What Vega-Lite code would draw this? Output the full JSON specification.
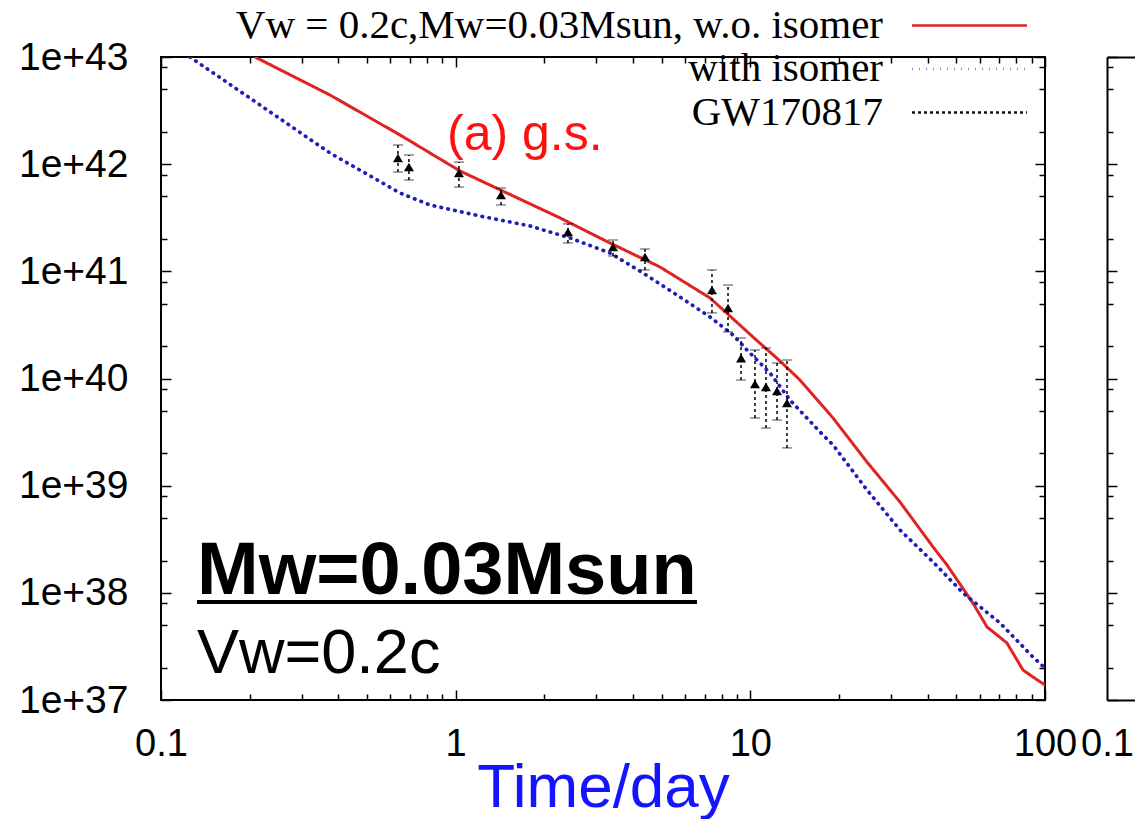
{
  "$schema": "https://vega.github.io/schema/vega-lite/v6.json",
  "autosize": {"type": "pad"},
  "padding": {"left": 17, "top": 5, "right": 0, "bottom": 0},
  "background": "white",
  "spacing": 62,
  "bounds": "flush",
  "datasets": {
    "curves": [
      {"t": 0.2084, "L": 1e43, "series": "Vw = 0.2c,Mw=0.03Msun, w.o. isomer"},
      {"t": 0.3745, "L": 4.42e42, "series": "Vw = 0.2c,Mw=0.03Msun, w.o. isomer"},
      {"t": 0.6475, "L": 1.872e42, "series": "Vw = 0.2c,Mw=0.03Msun, w.o. isomer"},
      {"t": 1.034, "L": 8.64e41, "series": "Vw = 0.2c,Mw=0.03Msun, w.o. isomer"},
      {"t": 2.26, "L": 3.15e41, "series": "Vw = 0.2c,Mw=0.03Msun, w.o. isomer"},
      {"t": 3.339, "L": 1.838e41, "series": "Vw = 0.2c,Mw=0.03Msun, w.o. isomer"},
      {"t": 4.936, "L": 1.098e41, "series": "Vw = 0.2c,Mw=0.03Msun, w.o. isomer"},
      {"t": 7.3, "L": 5.64e40, "series": "Vw = 0.2c,Mw=0.03Msun, w.o. isomer"},
      {"t": 10.21, "L": 2.44e40, "series": "Vw = 0.2c,Mw=0.03Msun, w.o. isomer"},
      {"t": 12.61, "L": 1.457e40, "series": "Vw = 0.2c,Mw=0.03Msun, w.o. isomer"},
      {"t": 14.74, "L": 9.68e39, "series": "Vw = 0.2c,Mw=0.03Msun, w.o. isomer"},
      {"t": 19.08, "L": 4.28e39, "series": "Vw = 0.2c,Mw=0.03Msun, w.o. isomer"},
      {"t": 24.88, "L": 1.663e39, "series": "Vw = 0.2c,Mw=0.03Msun, w.o. isomer"},
      {"t": 32.2, "L": 7.04e38, "series": "Vw = 0.2c,Mw=0.03Msun, w.o. isomer"},
      {"t": 41.7, "L": 2.68e38, "series": "Vw = 0.2c,Mw=0.03Msun, w.o. isomer"},
      {"t": 46.5, "L": 1.82e38, "series": "Vw = 0.2c,Mw=0.03Msun, w.o. isomer"},
      {"t": 56.9, "L": 8.04e37, "series": "Vw = 0.2c,Mw=0.03Msun, w.o. isomer"},
      {"t": 63.6, "L": 4.8e37, "series": "Vw = 0.2c,Mw=0.03Msun, w.o. isomer"},
      {"t": 74.3, "L": 3.4e37, "series": "Vw = 0.2c,Mw=0.03Msun, w.o. isomer"},
      {"t": 84.2, "L": 1.905e37, "series": "Vw = 0.2c,Mw=0.03Msun, w.o. isomer"},
      {"t": 91.0, "L": 1.64e37, "series": "Vw = 0.2c,Mw=0.03Msun, w.o. isomer"},
      {"t": 100, "L": 1.38e37, "series": "Vw = 0.2c,Mw=0.03Msun, w.o. isomer"},
      {"t": 0.1254, "L": 1e43, "series": "with isomer"},
      {"t": 0.2168, "L": 3.565e42, "series": "with isomer"},
      {"t": 0.3745, "L": 1.271e42, "series": "with isomer"},
      {"t": 0.6475, "L": 5.38e41, "series": "with isomer"},
      {"t": 0.818, "L": 4.16e41, "series": "with isomer"},
      {"t": 1.21, "L": 3.28e41, "series": "with isomer"},
      {"t": 1.788, "L": 2.65e41, "series": "with isomer"},
      {"t": 2.443, "L": 2.047e41, "series": "with isomer"},
      {"t": 3.339, "L": 1.483e41, "series": "with isomer"},
      {"t": 4.322, "L": 9.65e40, "series": "with isomer"},
      {"t": 5.638, "L": 6.01e40, "series": "with isomer"},
      {"t": 7.3, "L": 3.75e40, "series": "with isomer"},
      {"t": 8.733, "L": 2.547e40, "series": "with isomer"},
      {"t": 9.743, "L": 1.845e40, "series": "with isomer"},
      {"t": 11.66, "L": 1.126e40, "series": "with isomer"},
      {"t": 13.63, "L": 6.3e39, "series": "with isomer"},
      {"t": 17.24, "L": 3.17e39, "series": "with isomer"},
      {"t": 19.08, "L": 2.4e39, "series": "with isomer"},
      {"t": 24.88, "L": 9.12e38, "series": "with isomer"},
      {"t": 32.2, "L": 3.86e38, "series": "with isomer"},
      {"t": 41.7, "L": 1.94e38, "series": "with isomer"},
      {"t": 52.7, "L": 9.97e37, "series": "with isomer"},
      {"t": 70.4, "L": 5.23e37, "series": "with isomer"},
      {"t": 91.0, "L": 2.52e37, "series": "with isomer"},
      {"t": 100, "L": 1.99e37, "series": "with isomer"}
    ],
    "obs": [
      {"t": 0.637, "L": 1.142e42, "lo": 8.45e41, "hi": 1.51e42},
      {"t": 0.694, "L": 9.41e41, "lo": 7.12e41, "hi": 1.218e42},
      {"t": 1.026, "L": 8.27e41, "lo": 6.12e41, "hi": 1.047e42},
      {"t": 1.425, "L": 5.16e41, "lo": 4.16e41, "hi": 5.99e41},
      {"t": 2.405, "L": 2.33e41, "lo": 1.84e41, "hi": 2.77e41},
      {"t": 3.42, "L": 1.687e41, "lo": 1.39e41, "hi": 1.96e41},
      {"t": 4.39, "L": 1.36e41, "lo": 1.03e41, "hi": 1.616e41},
      {"t": 7.41, "L": 6.7e40, "lo": 4.09e40, "hi": 1.03e41},
      {"t": 8.4, "L": 4.55e40, "lo": 2.72e40, "hi": 7.46e40},
      {"t": 9.3, "L": 1.55e40, "lo": 9.68e39, "hi": 2.39e40},
      {"t": 10.37, "L": 8.89e39, "lo": 4.28e39, "hi": 1.845e40},
      {"t": 11.3, "L": 8.34e39, "lo": 3.45e39, "hi": 1.926e40},
      {"t": 12.32, "L": 7.65e39, "lo": 4.1e39, "hi": 1.395e40},
      {"t": 13.32, "L": 5.91e39, "lo": 2.25e39, "hi": 1.488e40}
    ],
    "one": [{"k": 1}]
  },
  "hconcat": [
    {
      "width": 884,
      "height": 643,
      "layer": [
        {
          "data": {"name": "curves"},
          "mark": {"type": "line", "clip": true, "strokeCap": "round"},
          "encoding": {
            "x": {
              "field": "t", "type": "quantitative",
              "scale": {"type": "log", "domain": [0.1, 100], "nice": false},
              "axis": {
                "orient": "bottom",
                "values": [0.1, 0.2, 0.3, 0.4, 0.5, 0.6, 0.7, 0.8, 0.9, 1, 2, 3, 4, 5, 6, 7, 8, 9, 10, 20, 30, 40, 50, 60, 70, 80, 90, 100],
                "labelExpr": "abs(log(datum.value)/LN10 - round(log(datum.value)/LN10)) < 0.001 ? (datum.value < 0.5 ? '0.1' : format(datum.value, 'd')) : ''",
                "tickSize": {"condition": {"test": "abs(log(datum.value)/LN10 - round(log(datum.value)/LN10)) < 0.001", "value": -10}, "value": -6},
                "labelPadding": 35,
                "title": "Time/day",
                "titleColor": "#1414ff",
                "titleFontSize": 62,
                "titleFontWeight": "normal",
                "titlePadding": -10
              }
            },
            "y": {
              "field": "L", "type": "quantitative",
              "scale": {"type": "log", "domain": [1e37, 1e43], "nice": false},
              "axis": {
                "orient": "left",
                "values": [1e37, 2e37, 5e37, 8e37, 1e38, 2e38, 5e38, 8e38, 1e39, 2e39, 5e39, 8e39, 1e40, 2e40, 5e40, 8e40, 1e41, 2e41, 5e41, 8e41, 1e42, 2e42, 5e42, 8e42, 1e43],
                "labelExpr": "abs(log(datum.value)/LN10 - round(log(datum.value)/LN10)) < 0.001 ? '1e+' + round(log(datum.value)/LN10) : ''",
                "tickSize": {"condition": {"test": "abs(log(datum.value)/LN10 - round(log(datum.value)/LN10)) < 0.001", "value": -10}, "value": -6},
                "labelPadding": 43,
                "labelFontSize": 39,
                "title": null
              }
            },
            "color": {
              "field": "series", "type": "nominal",
              "scale": {"domain": ["Vw = 0.2c,Mw=0.03Msun, w.o. isomer", "with isomer", "GW170817"], "range": ["#e02424", "#1f1fb8", "#111111"]},
              "legend": {"title": null}
            },
            "strokeDash": {
              "field": "series", "type": "nominal",
              "scale": {"domain": ["Vw = 0.2c,Mw=0.03Msun, w.o. isomer", "with isomer", "GW170817"], "range": [[1, 0], [0.5, 6.5], [3, 3]]},
              "legend": {"title": null}
            },
            "strokeWidth": {
              "field": "series", "type": "nominal",
              "scale": {"domain": ["Vw = 0.2c,Mw=0.03Msun, w.o. isomer", "with isomer"], "range": [3, 3.7]},
              "legend": null
            }
          }
        },
        {
          "data": {"name": "obs"},
          "mark": {"type": "errorbar", "ticks": {"size": 10, "color": "black", "strokeWidth": 1.5}, "rule": {"strokeDash": [3, 3], "color": "black", "strokeWidth": 1.5}, "color": "black"},
          "encoding": {
            "x": {"field": "t", "type": "quantitative", "axis": null},
            "y": {"field": "lo", "type": "quantitative", "axis": null},
            "y2": {"field": "hi"}
          }
        },
        {
          "data": {"name": "obs"},
          "mark": {"type": "point", "shape": "triangle-up", "filled": true, "color": "black", "size": 100, "opacity": 1},
          "encoding": {
            "x": {
              "field": "t", "type": "quantitative",
              "axis": {
                "orient": "top", "labels": false, "title": null,
                "values": [0.1, 0.2, 0.3, 0.4, 0.5, 0.6, 0.7, 0.8, 0.9, 1, 2, 3, 4, 5, 6, 7, 8, 9, 10, 20, 30, 40, 50, 60, 70, 80, 90, 100],
                "tickSize": {"condition": {"test": "abs(log(datum.value)/LN10 - round(log(datum.value)/LN10)) < 0.001", "value": -10}, "value": -6}
              }
            },
            "y": {
              "field": "L", "type": "quantitative",
              "axis": {
                "orient": "right", "labels": false, "title": null,
                "values": [1e37, 2e37, 5e37, 8e37, 1e38, 2e38, 5e38, 8e38, 1e39, 2e39, 5e39, 8e39, 1e40, 2e40, 5e40, 8e40, 1e41, 2e41, 5e41, 8e41, 1e42, 2e42, 5e42, 8e42, 1e43],
                "tickSize": {"condition": {"test": "abs(log(datum.value)/LN10 - round(log(datum.value)/LN10)) < 0.001", "value": -10}, "value": -6}
              }
            }
          }
        },
        {
          "data": {"name": "one"},
          "mark": {"type": "text", "text": "(a) g.s.", "align": "left", "baseline": "alphabetic", "fontSize": 50, "color": "#ff1010", "font": "Liberation Sans"},
          "encoding": {
            "x": {"datum": 0.935, "type": "quantitative", "axis": null},
            "y": {"datum": 1.35e42, "type": "quantitative", "axis": null}
          }
        },
        {
          "data": {"name": "one"},
          "mark": {"type": "text", "text": "Mw=0.03Msun", "align": "left", "baseline": "alphabetic", "fontSize": 74, "fontWeight": "bold", "color": "black", "font": "Liberation Sans"},
          "encoding": {
            "x": {"datum": 0.1325, "type": "quantitative", "axis": null},
            "y": {"datum": 9.8e37, "type": "quantitative", "axis": null}
          }
        },
        {
          "data": {"name": "one"},
          "mark": {"type": "text", "text": "Vw=0.2c", "align": "left", "baseline": "alphabetic", "fontSize": 63, "color": "black", "font": "Liberation Sans"},
          "encoding": {
            "x": {"datum": 0.1325, "type": "quantitative", "axis": null},
            "y": {"datum": 1.787e37, "type": "quantitative", "axis": null}
          }
        },
        {
          "data": {"name": "one"},
          "mark": {"type": "rule", "color": "black", "strokeWidth": 4},
          "encoding": {
            "x": {"datum": 0.1325, "type": "quantitative", "axis": null},
            "x2": {"datum": 6.59},
            "y": {"datum": 8.21e37, "type": "quantitative", "axis": null}
          }
        }
      ],
      "resolve": {"axis": {"x": "independent", "y": "independent"}}
    },
    {
      "width": 28,
      "height": 643,
      "view": {"stroke": null},
      "data": {"values": []},
      "layer": [
        {
          "mark": {"type": "point", "opacity": 0},
          "encoding": {
            "x": {
              "field": "t", "type": "quantitative",
              "scale": {"type": "log", "domain": [0.1, 100], "nice": false},
              "axis": {"orient": "bottom", "values": [0.1], "labelExpr": "'0.1'", "ticks": false, "domain": true, "domainColor": "black", "domainWidth": 2, "labelPadding": 25, "title": null}
            },
            "y": {
              "field": "L", "type": "quantitative",
              "scale": {"type": "log", "domain": [1e37, 1e43], "nice": false},
              "axis": {
                "orient": "left", "labels": false, "title": null, "domain": true, "domainColor": "black", "domainWidth": 2,
                "values": [1e37, 2e37, 5e37, 8e37, 1e38, 2e38, 5e38, 8e38, 1e39, 2e39, 5e39, 8e39, 1e40, 2e40, 5e40, 8e40, 1e41, 2e41, 5e41, 8e41, 1e42, 2e42, 5e42, 8e42, 1e43],
                "tickSize": {"condition": {"test": "abs(log(datum.value)/LN10 - round(log(datum.value)/LN10)) < 0.001", "value": -10}, "value": -6}
              }
            }
          }
        },
        {
          "mark": {"type": "point", "opacity": 0},
          "encoding": {
            "x": {
              "field": "t", "type": "quantitative",
              "axis": {"orient": "top", "labels": false, "ticks": false, "domain": true, "domainColor": "black", "domainWidth": 2, "title": null}
            }
          }
        }
      ],
      "resolve": {"axis": {"x": "independent"}}
    }
  ],
  "config": {
    "font": "Liberation Sans",
    "view": {"stroke": "black", "strokeWidth": 2},
    "axis": {
      "domain": false, "grid": false,
      "labelFont": "Liberation Sans", "labelFontSize": 38, "labelColor": "black",
      "tickColor": "black", "tickWidth": 1.5,
      "labelOverlap": false, "labelFlush": false,
      "titleFont": "Liberation Sans"
    },
    "legend": {
      "orient": "none",
      "legendX": 788,
      "legendY": -52,
      "direction": "vertical",
      "padding": 0,
      "symbolType": "M-5,0H5",
      "symbolSize": 529,
      "symbolStrokeWidth": 2.5,
      "labelFont": "Liberation Serif",
      "labelFontSize": 41,
      "labelColor": "black",
      "labelLimit": 0,
      "labelAlign": "right",
      "labelOffset": -107,
      "rowPadding": 1.5
    }
  }
}
